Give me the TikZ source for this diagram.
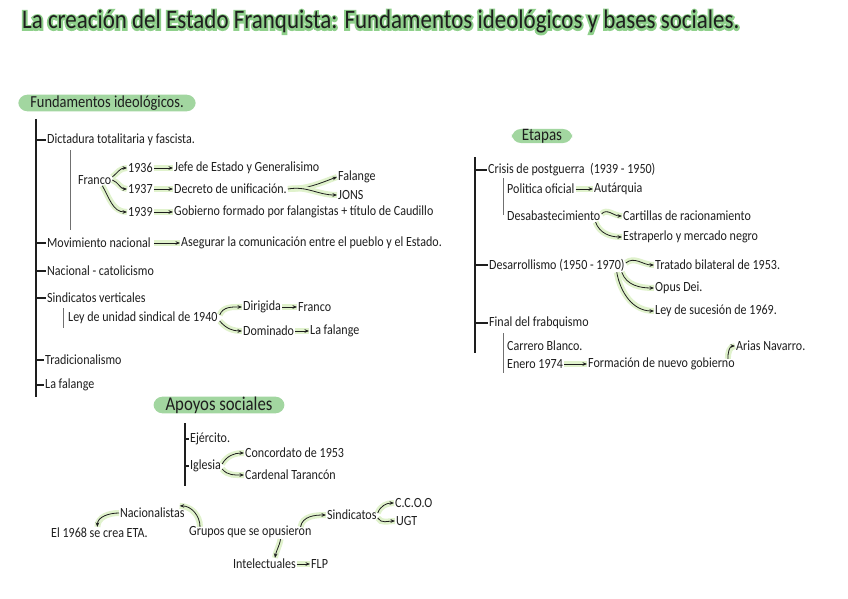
\documentclass[tikz,border=0pt]{standalone}
\usepackage{fontspec}
\setmainfont{Carlito}[FakeStretch=0.86]
\newfontfamily\glowfont{Carlito}[FakeStretch=0.86,FakeBold=14]
\usetikzlibrary{arrows.meta}
\definecolor{ink}{HTML}{1E1E1E}
\definecolor{pill}{HTML}{A2D6A0}
\definecolor{glow}{HTML}{E0F2CC}
\definecolor{titleglow}{HTML}{8FD08B}
\definecolor{rule}{HTML}{707070}

\tikzset{
  item/.style={anchor=west,inner sep=1pt,text=ink},
  header/.style={fill=pill,rounded corners=9pt,inner xsep=12pt,inner ysep=1pt,
    text=ink},
  arr/.style={-{Stealth[length=4.5pt,width=3.6pt]},line width=0.8pt,draw=ink,
    preaction={draw=glow,line width=6pt,-}},
  bar/.style={line width=2.4pt,draw=ink},
  tick/.style={line width=1.6pt,draw=ink},
  thin/.style={line width=1pt,draw=rule}
}

\begin{document}
\begin{tikzpicture}[x=1pt,y=-1pt,font=\fontsize{14}{16}\selectfont]
  \useasboundingbox[fill=white] (0,0) rectangle (848,599);

  % Title with its green halo.
  \node[item,font=\fontsize{26.7}{30}\selectfont] (title) at (21,22)
    {\rlap{\glowfont\color{titleglow}La creación del Estado Franquista: Fundamentos ideológicos y bases sociales.}La creación del Estado Franquista: Fundamentos ideológicos y bases sociales.};

  % Fundamentos ideologicos.
  \node[header,font=\fontsize{16.8}{18}\selectfont] (fund) at (107,103)
    {Fundamentos ideológicos.};
  \coordinate (ftop) at (36,119);
  \coordinate (fbot) at (36,397);
  \draw[bar] (ftop) -- (fbot);

  \node[item] (dict) at (46,140) {Dictadura totalitaria y fascista.};
  \draw[thin] (70,150) -- (70,230);
  \node[item] (franco) at (77,180) {Franco};
  \node[item] (y36) at (127,168) {1936};
  \node[item] (jefe) at (173,168) {Jefe de Estado y Generalisimo};
  \node[item] (y37) at (127,189) {1937};
  \node[item] (decreto) at (173,189) {Decreto de unificación.};
  \node[item] (y39) at (127,212) {1939};
  \node[item] (gobierno) at (173,212)
    {Gobierno formado por falangistas + título de Caudillo};
  \node[item] (falange) at (337,177) {Falange};
  \node[item] (jons) at (337,195) {JONS};

  \draw[arr] ([yshift=3pt]franco.east) to[out=40,in=180] (y36.west);
  \draw[arr] (franco.east) to[out=-20,in=180] (y37.west);
  \draw[arr] ([xshift=-10pt]franco.south east) to[out=-60,in=180] (y39.west);
  \draw[arr] (y36) -- (jefe);
  \draw[arr] (y37) -- (decreto);
  \draw[arr] (y39) -- (gobierno);
  \draw[arr] (decreto.east) to[out=0,in=200] (falange.west);
  \draw[arr] (decreto.east) to[out=10,in=180] (jons.west);

  \node[item] (movi) at (46,243) {Movimiento nacional};
  \node[item] (aseg) at (180,243)
    {Asegurar la comunicación entre el pueblo y el Estado.};
  \draw[arr] ([xshift=2pt]movi.east) -- (aseg.west);

  \node[item] (nacat) at (46,271) {Nacional - catolicismo};
  \node[item] (sindv) at (46,298) {Sindicatos verticales};
  \draw[thin] (63,308) -- (63,328);
  \node[item] (ley) at (67,318) {Ley de unidad sindical de 1940};
  \node[item] (dirigida) at (242,307) {Dirigida};
  \node[item] (franco2) at (297,307) {Franco};
  \node[item] (dominado) at (242,331) {Dominado};
  \node[item] (lafal2) at (309,331) {La falange};
  \draw[arr] ([xshift=1pt,yshift=3pt]ley.east) to[out=70,in=180] (dirigida.west);
  \draw[arr] ([xshift=1pt,yshift=-3pt]ley.east) to[out=-50,in=180] (dominado.west);
  \draw[arr] (dirigida) -- (franco2);
  \draw[arr] (dominado) -- (lafal2);

  \node[item] (trad) at (44,360) {Tradicionalismo};
  \node[item] (lafal) at (44,385) {La falange};

  \foreach \n in {dict,movi,nacat,sindv,trad,lafal}
    \draw[tick] (ftop |- \n.west) -- (\n.west);

  % Etapas.
  \node[header,font=\fontsize{17.5}{18}\selectfont,inner ysep=0pt,
    inner xsep=10pt] (etapas) at (542,136) {Etapas};
  \coordinate (etop) at (475,157);
  \coordinate (ebot) at (475,353);
  \draw[bar] (etop) -- (ebot);

  \node[item] (crisis) at (487,170) {Crisis de postguerra\ \ (1939 - 1950)};
  \draw[thin] (503,178) -- (503,215);
  \node[item] (politica) at (506,189) {Politica oficial};
  \node[item] (autarq) at (593,189) {Autárquia};
  \node[item] (desab) at (506,216) {Desabastecimiento};
  \node[item] (cartillas) at (622,216) {Cartillas de racionamiento};
  \node[item] (estraperlo) at (622,237) {Estraperlo y mercado negro};
  \draw[arr] (politica) -- (autarq);
  \draw[arr] ([yshift=2pt]desab.east) to[out=50,in=180] (cartillas.west);
  \draw[arr] ([xshift=-6pt]desab.south east) to[out=-70,in=180] (estraperlo.west);

  \node[item] (desarr) at (488,265) {Desarrollismo (1950 - 1970)};
  \node[item] (tratado) at (654,265) {Tratado bilateral de 1953.};
  \node[item] (opus) at (654,288) {Opus Dei.};
  \node[item] (leysuc) at (654,311) {Ley de sucesión de 1969.};
  \draw[arr] ([yshift=2pt]desarr.east) to[out=40,in=180] (tratado.west);
  \draw[arr] ([xshift=-4pt]desarr.south east) to[out=-70,in=180] (opus.west);
  \draw[arr] ([xshift=-9pt]desarr.south east) to[out=-80,in=180] (leysuc.west);

  \node[item] (final) at (488,323) {Final del frabquismo};
  \draw[thin] (503,333) -- (503,373);
  \node[item] (carrero) at (506,346) {Carrero Blanco.};
  \node[item] (enero) at (506,364) {Enero 1974};
  \node[item] (formacion) at (587,364) {Formación de nuevo gobierno};
  \node[item] (arias) at (735,346) {Arias Navarro.};
  \draw[arr] (enero) -- (formacion);
  \draw[arr] ([xshift=-8pt,yshift=-2pt]formacion.north east) to[out=90,in=180] (arias.west);

  \foreach \n in {crisis,desarr,final}
    \draw[tick] (etop |- \n.west) -- (\n.west);

  % Apoyos sociales.
  \node[header,font=\fontsize{19.5}{21}\selectfont,inner ysep=0pt]
    (apoyos) at (219,405) {Apoyos sociales};
  \coordinate (atop) at (185,423);
  \coordinate (abot) at (185,486);
  \draw[bar] (atop) -- (abot);

  \node[item] (ejercito) at (189,439) {Ejército.};
  \node[item] (iglesia) at (189,466) {Iglesia};
  \node[item] (concordato) at (244,453) {Concordato de 1953};
  \node[item] (cardenal) at (244,475) {Cardenal Tarancón};
  \draw[arr] ([yshift=2pt]iglesia.east) to[out=60,in=180] (concordato.west);
  \draw[arr] ([yshift=-3pt]iglesia.east) to[out=-50,in=180] (cardenal.west);
  \foreach \n in {ejercito,iglesia}
    \draw[tick] (atop |- \n.west) -- (\n.west);

  \node[item] (grupos) at (188,532) {Grupos que se opusieron};
  \node[item] (nacion) at (119,513) {Nacionalistas};
  \node[item] (eta) at (50,533) {El 1968 se crea ETA.};
  \node[item] (sindicatos) at (326,515) {Sindicatos};
  \node[item] (ccoo) at (394,503) {C.C.O.O};
  \node[item] (ugt) at (395,521) {UGT};
  \node[item] (intel) at (232,564) {Intelectuales};
  \node[item] (flp) at (310,564) {FLP};

  \draw[arr] ([xshift=12pt,yshift=-2pt]grupos.north west) to[out=90,in=0]
    ([xshift=-6pt,yshift=1pt]nacion.north east);
  \draw[arr] (nacion.west) to[out=180,in=90] ([xshift=-2pt]eta.north);
  \draw[arr] ([xshift=-12pt,yshift=-2pt]grupos.north east) to[out=80,in=180]
    (sindicatos.west);
  \draw[arr] ([xshift=-32pt]grupos.south east) to[out=-100,in=80]
    ([xshift=-22pt]intel.north east);
  \draw[arr] (intel) -- (flp);
  \draw[arr] ([yshift=2pt]sindicatos.east) to[out=70,in=180] (ccoo.west);
  \draw[arr] ([yshift=-3pt]sindicatos.east) to[out=-60,in=180] (ugt.west);
\end{tikzpicture}
\end{document}
